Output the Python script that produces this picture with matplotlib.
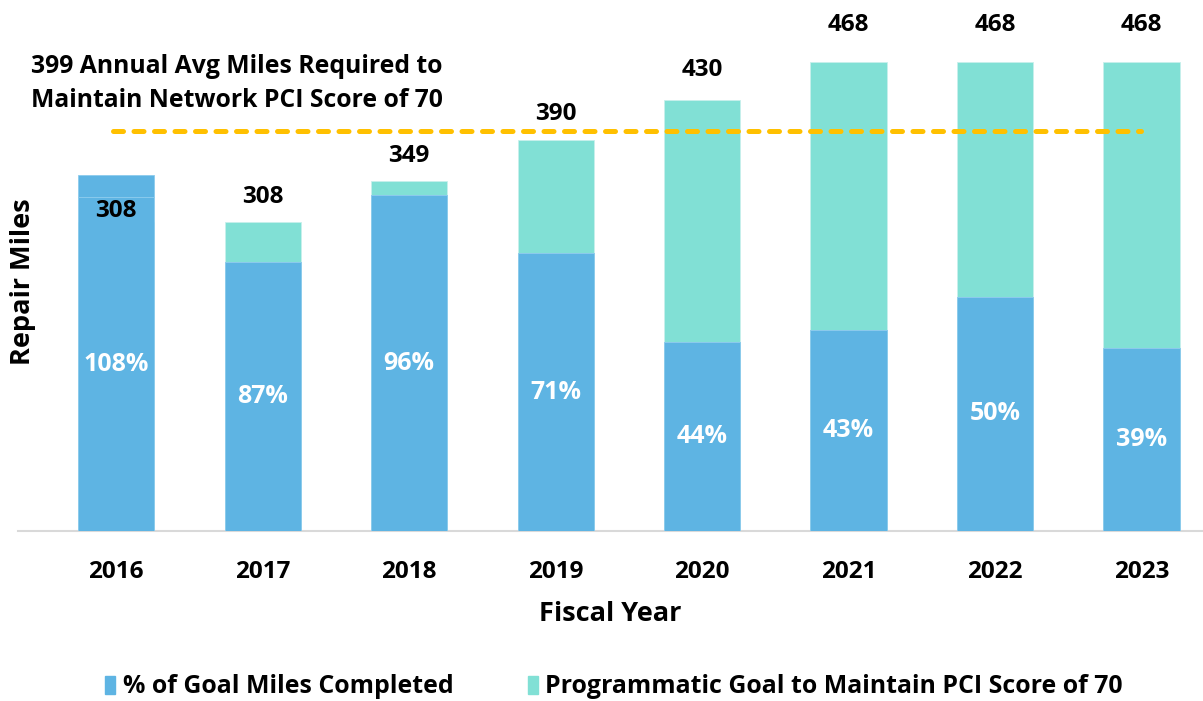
import matplotlib
matplotlib.use("Agg")
import matplotlib.pyplot as plt
from matplotlib.patches import Patch

plt.rcParams['font.family'] = ['Open Sans', 'DejaVu Sans']
plt.rcParams['font.weight'] = 'bold'

# data
years = ['2016', '2017', '2018', '2019', '2020', '2021', '2022', '2023']
goal_miles = [308, 308, 349, 390, 430, 468, 468, 468]
completed_miles = [333, 268, 335, 277, 189, 201, 234, 183]
overage_miles = [22, 0, 0, 0, 0, 0, 0, 0]
pct_labels = ['108%', '87%', '96%', '71%', '44%', '43%', '50%', '39%']
avg_required = 399

blue = '#5EB4E3'
teal = '#81E0D5'
gold = '#FFC000'

# label offset above goal bar, in points
label_pad = [8, 18, 18, 19, 22, 27, 27, 27]

fig = plt.figure(figsize=(12.03, 7.01), dpi=100)
ax = fig.add_axes([0.015, 0.2425, 0.985, 0.7575])

x = list(range(len(years)))
w = 0.52
ax.bar(x, goal_miles, w, color=teal, edgecolor='#c8f0ec', linewidth=0.6, zorder=2)
ax.bar(x, completed_miles, w, color=blue, edgecolor='#8ccbed', linewidth=0.6, zorder=3)
ax.bar(x, overage_miles, w, bottom=completed_miles, color=blue,
       edgecolor='#8ccbed', linewidth=0.6, zorder=3)

for i in x:
    ax.annotate(str(goal_miles[i]), (i, goal_miles[i]), xytext=(0, label_pad[i]),
                textcoords='offset points', ha='center', va='center',
                fontsize=17.5, fontweight='bold', color='black', zorder=5)
    ax.text(i, completed_miles[i] / 2, pct_labels[i], ha='center', va='center',
            fontsize=18, fontweight='bold', color='white', zorder=5)

ax.plot([x[0] - 0.02, x[-1]], [avg_required, avg_required], color=gold, lw=3.6,
        dashes=(2.0, 2.1), dash_capstyle='round', zorder=4)
ax.text(0.026, 0.881, '399 Annual Avg Miles Required to\nMaintain Network PCI Score of 70',
        transform=fig.transFigure, ha='left', va='center', fontsize=17.8,
        fontweight='bold', linespacing=1.5)

ax.set_xlim(-0.67, 7.42)
ax.set_ylim(0, 530)
ax.set_yticks([])
ax.set_xticks(x)
ax.set_xticklabels(years, fontsize=17.5, fontweight='bold')
ax.tick_params(axis='x', length=0, pad=21)
for s in ['top', 'right', 'left']:
    ax.spines[s].set_visible(False)
ax.spines['bottom'].set_color('#d9d9d9')
ax.spines['bottom'].set_linewidth(1.5)

ax.set_xlabel('Fiscal Year', fontsize=19.5, fontweight='bold', labelpad=12)
fig.text(0.019, 0.598, 'Repair Miles', rotation=90, ha='center', va='center',
         fontsize=19.5, fontweight='bold')

handles = [Patch(color=blue), Patch(color=teal)]
fig.legend(handles, ['% of Goal Miles Completed',
                     'Programmatic Goal to Maintain PCI Score of 70'],
           loc='center', bbox_to_anchor=(0.5105, 0.02), ncol=2, frameon=False,
           prop={'size': 17.9, 'weight': 'bold'}, handlelength=0.4, handleheight=0.75,
           handletextpad=0.3, columnspacing=3.0)

fig.savefig('out.png', dpi=100)
